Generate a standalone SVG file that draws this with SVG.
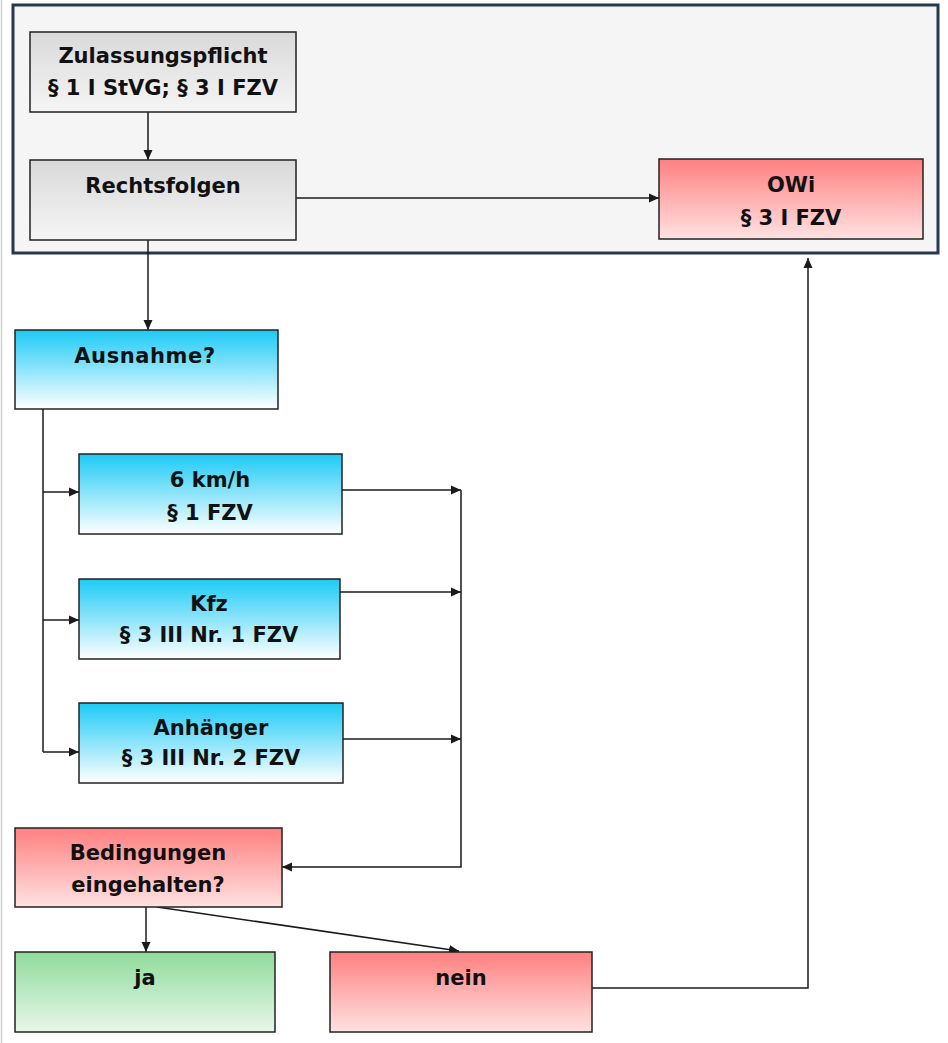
<svg xmlns="http://www.w3.org/2000/svg" width="948" height="1043" viewBox="0 0 948 1043">
<defs>
<linearGradient id="gGray" x1="0" y1="0" x2="0" y2="1"><stop offset="0" stop-color="#d9d9d9"/><stop offset="1" stop-color="#f5f5f5"/></linearGradient>
<linearGradient id="gRed" x1="0" y1="0" x2="0" y2="1"><stop offset="0" stop-color="#ff8080"/><stop offset="1" stop-color="#ffe2e2"/></linearGradient>
<linearGradient id="gCyan" x1="0" y1="0" x2="0" y2="1"><stop offset="0" stop-color="#1ccaf6"/><stop offset="1" stop-color="#ffffff"/></linearGradient>
<linearGradient id="gGreen" x1="0" y1="0" x2="0" y2="1"><stop offset="0" stop-color="#8fdb9b"/><stop offset="1" stop-color="#e8f7ea"/></linearGradient>
<marker id="ah" viewBox="0 0 10 10" refX="10" refY="5" markerWidth="10" markerHeight="10" markerUnits="userSpaceOnUse" orient="auto"><path d="M0,0.5 L10,5 L0,9.5 z" fill="#1a1a1a"/></marker>
<style>
.box{stroke:#222;stroke-width:1.5}
.t{font-family:"DejaVu Sans",Verdana,sans-serif;font-weight:bold;font-size:21px;fill:#111;text-anchor:middle}
.c{fill:none;stroke:#1a1a1a;stroke-width:1.5}
.ca{fill:none;stroke:#1a1a1a;stroke-width:1.5;marker-end:url(#ah)}
</style>
</defs>
<rect x="0" y="0" width="948" height="1043" fill="#ffffff"/>
<line x1="1.5" y1="0" x2="1.5" y2="1043" stroke="#d0d0d0" stroke-width="1.5"/>
<g id="container">
<rect x="13" y="5" width="925" height="248" fill="#f5f5f5" stroke="#26384f" stroke-width="3"/>
</g>
<g id="connectors">
<line class="ca" x1="148" y1="112" x2="148" y2="160"/>
<line class="ca" x1="296" y1="198" x2="659" y2="198"/>
<line class="ca" x1="148" y1="240" x2="148" y2="330"/>
<line class="c" x1="43" y1="409" x2="43" y2="752"/>
<line class="ca" x1="43" y1="492" x2="79" y2="492"/>
<line class="ca" x1="43" y1="620" x2="79" y2="620"/>
<line class="ca" x1="43" y1="752" x2="79" y2="752"/>
<line class="ca" x1="342" y1="490" x2="461" y2="490"/>
<line class="ca" x1="340" y1="592" x2="461" y2="592"/>
<line class="ca" x1="343" y1="739" x2="461" y2="739"/>
<polyline class="ca" points="461,490 461,867 282,867"/>
<line class="ca" x1="146" y1="907" x2="146" y2="952"/>
<line class="ca" x1="157" y1="907" x2="459" y2="951"/>
<polyline class="ca" points="592,988 808,988 808,258"/>
</g>
<g id="zulassungspflicht">
<rect class="box" x="30" y="32" width="266" height="80" fill="url(#gGray)"/>
<text class="t" x="163" y="63">Zulassungspflicht</text>
<text class="t" x="163" y="95">§ 1 I StVG; § 3 I FZV</text>
</g>
<g id="rechtsfolgen">
<rect class="box" x="30" y="160" width="266" height="80" fill="url(#gGray)"/>
<text class="t" x="163" y="193">Rechtsfolgen</text>
</g>
<g id="owi">
<rect class="box" x="659" y="159" width="264" height="80" fill="url(#gRed)"/>
<text class="t" x="791" y="192">OWi</text>
<text class="t" x="791" y="225">§ 3 I FZV</text>
</g>
<g id="ausnahme">
<rect class="box" x="15" y="330" width="263" height="79" fill="url(#gCyan)"/>
<text class="t" x="145" y="363" letter-spacing="0.6">Ausnahme?</text>
</g>
<g id="kmh">
<rect class="box" x="79" y="454" width="263" height="80" fill="url(#gCyan)"/>
<text class="t" x="210" y="487">6 km/h</text>
<text class="t" x="210" y="520">§ 1 FZV</text>
</g>
<g id="kfz">
<rect class="box" x="79" y="579" width="261" height="80" fill="url(#gCyan)"/>
<text class="t" x="209" y="611">Kfz</text>
<text class="t" x="209" y="642">§ 3 III Nr. 1 FZV</text>
</g>
<g id="anhaenger">
<rect class="box" x="79" y="703" width="264" height="80" fill="url(#gCyan)"/>
<text class="t" x="211" y="735">Anhänger</text>
<text class="t" x="211" y="765">§ 3 III Nr. 2 FZV</text>
</g>
<g id="bedingungen">
<rect class="box" x="15" y="828" width="267" height="79" fill="url(#gRed)"/>
<text class="t" x="148" y="860">Bedingungen</text>
<text class="t" x="148" y="892">eingehalten?</text>
</g>
<g id="ja">
<rect class="box" x="15" y="952" width="260" height="80" fill="url(#gGreen)"/>
<text class="t" x="145" y="985">ja</text>
</g>
<g id="nein">
<rect class="box" x="330" y="952" width="262" height="80" fill="url(#gRed)"/>
<text class="t" x="461" y="985">nein</text>
</g>
</svg>
